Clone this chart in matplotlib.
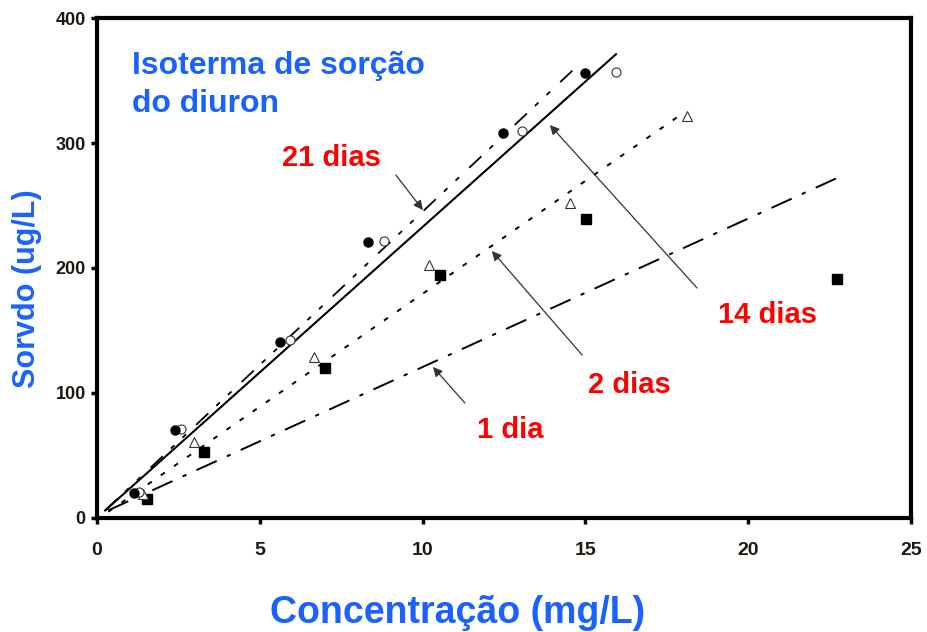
import matplotlib
matplotlib.use('Agg')
import matplotlib.pyplot as plt

# measured points (concentration mg/L, sorbed ug/L)
conc_21 = [1.14, 2.40, 5.62, 8.32, 12.47, 14.99]
sorb_21 = [20, 70, 141, 221, 308, 356]
conc_14 = [1.30, 2.58, 5.93, 8.81, 13.05, 15.94]
sorb_14 = [21, 71, 142, 222, 310, 357]
conc_2 = [1.40, 2.97, 6.66, 10.20, 14.53, 18.12]
sorb_2 = [19, 61, 129, 202, 252, 322]
conc_1 = [1.54, 3.29, 7.00, 10.53, 15.02, 22.73]
sorb_1 = [15, 53, 120, 194, 239, 191]

# fitted lines (start / end)
fit21_x = [0.25, 14.77]
fit21_y = [6, 362]
fit14_x = [0.25, 15.94]
fit14_y = [6, 371]
fit2_x = [0.35, 17.84]
fit2_y = [5, 321]
fit1_x = [0.34, 22.73]
fit1_y = [6, 272]

x_ticks = [0, 5, 10, 15, 20, 25]
y_ticks = [0, 100, 200, 300, 400]

BLUE = '#1a62ff'
RED = '#ff0000'
TICK_COL = '#201810'

plt.rcParams['lines.scale_dashes'] = False
plt.rcParams['font.family'] = ['Liberation Sans', 'DejaVu Sans']

fig = plt.figure(figsize=(9.27, 6.32), dpi=100)
ax = fig.add_axes([0.1046, 0.1804, 0.8781, 0.7911])

# regression lines
ax.plot(fit21_x, fit21_y, color='black', lw=1.3,
        linestyle=(0, (12, 8, 3.5, 8, 3.5, 10)))
ax.plot(fit14_x, fit14_y, color='black', lw=1.5)
ax.plot(fit2_x, fit2_y, color='black', lw=1.4, linestyle=(0, (3.5, 8)))
ax.plot(fit1_x, fit1_y, color='black', lw=1.4,
        linestyle=(0, (16, 8, 3, 8)))

# data points
ax.plot(conc_1, sorb_1, 's', color='black', ms=6.5, ls='none')
ax.plot(conc_2, sorb_2, '^', mfc='white', mec='#333333', mew=0.8, ms=6.5, ls='none')
ax.plot(conc_14, sorb_14, 'o', mfc='white', mec='#333333', mew=0.8, ms=6.5, ls='none')
ax.plot(conc_21, sorb_21, 'o', color='black', ms=6.5, ls='none')

ax.set_xlim(0, 25)
ax.set_ylim(0, 400)
ax.set_xticks(x_ticks)
ax.set_yticks(y_ticks)

for sp in ax.spines.values():
    sp.set_linewidth(3)
ax.tick_params(axis='both', direction='out', length=4, width=2.5, colors='black',
               labelcolor=TICK_COL)
ax.tick_params(axis='x', pad=13)
ax.tick_params(axis='y', pad=4)
for lab in ax.get_xticklabels():
    lab.set_fontweight('bold')
    lab.set_fontsize(14)
for lab in ax.get_yticklabels():
    lab.set_fontweight('bold')
    lab.set_fontsize(13)

ax.set_xlabel('Concentração (mg/L)', color=BLUE, fontsize=27, fontweight='bold')
ax.xaxis.set_label_coords(0.443, -0.155)
ax.set_ylabel('Sorvdo (ug/L)', color=BLUE, fontsize=22, fontweight='bold')
ax.yaxis.set_label_coords(-0.068, 0.458)

ax.text(1.07, 355.2, 'Isoterma de sorção', color=BLUE, fontsize=23,
        fontweight='bold', va='baseline')
ax.text(1.07, 324.8, 'do diuron', color=BLUE, fontsize=23,
        fontweight='bold', va='baseline')

arrow = dict(arrowstyle='-|>', color='#333333', lw=0.9, mutation_scale=14,
             shrinkA=0, shrinkB=0)
labels = [
    ('21 dias', (5.68, 281.6), (9.18, 274.4), (10.01, 246.4)),
    ('14 dias', (19.07, 156), (18.43, 184), (13.91, 314.4)),
    ('2 dias', (15.08, 100), (14.9, 130.4), (12.13, 213.6)),
    ('1 dia', (11.67, 64), (11.3, 92), (10.32, 120.8)),
]
for txt, pos, start, tip in labels:
    ax.text(pos[0], pos[1], txt, color=RED, fontsize=21, fontweight='bold',
            va='baseline')
    ax.annotate('', xy=tip, xytext=start, arrowprops=arrow)

fig.savefig('out.png', dpi=100)
